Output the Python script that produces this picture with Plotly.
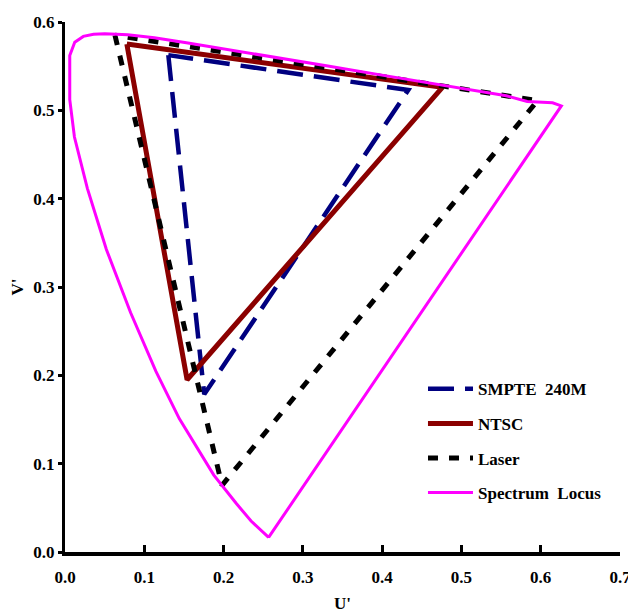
import plotly.graph_objects as go

# ---- data (CIE 1976 u'v' coordinates) ----
smpte_u = [0.1303, 0.1756, 0.4330, 0.1303]
smpte_v = [0.5625, 0.1785, 0.5230, 0.5625]

ntsc_u = [0.0780, 0.1540, 0.4760, 0.0780]
ntsc_v = [0.5750, 0.1950, 0.5260, 0.5750]

laser_u = [0.0630, 0.1980, 0.5960, 0.0630]
laser_v = [0.5850, 0.0754, 0.5110, 0.5850]

locus_u = [0.2568, 0.2347, 0.2161, 0.1877, 0.1441, 0.1147, 0.0828, 0.0521,
           0.0282, 0.0119, 0.0060, 0.0060, 0.0123, 0.0231, 0.0360, 0.0501,
           0.0792, 0.1127, 0.1531, 0.2026, 0.2623, 0.3315, 0.4035, 0.4692,
           0.5203, 0.5565, 0.5830, 0.6030, 0.6150, 0.6260, 0.2568]
locus_v = [0.0165, 0.0350, 0.0549, 0.0871, 0.1510, 0.2044, 0.2708, 0.3427,
           0.4117, 0.4698, 0.5120, 0.5620, 0.5770, 0.5837, 0.5861, 0.5867,
           0.5856, 0.5821, 0.5766, 0.5694, 0.5604, 0.5501, 0.5393, 0.5296,
           0.5219, 0.5165, 0.5100, 0.5090, 0.5085, 0.5050, 0.0165]

x_ticks = [0.0, 0.1, 0.2, 0.3, 0.4, 0.5, 0.6, 0.7]
y_ticks = [0.0, 0.1, 0.2, 0.3, 0.4, 0.5, 0.6]

FONT = "Times New Roman, Liberation Serif, serif"

fig = go.Figure()
fig.add_trace(go.Scatter(x=smpte_u, y=smpte_v, mode="lines", name="SMPTE  240M",
                         legendgroup="a",
                         line=dict(color="#000080", width=4.5, dash="26px,11px")))
fig.add_trace(go.Scatter(x=ntsc_u, y=ntsc_v, mode="lines", name="NTSC",
                         legendgroup="b",
                         line=dict(color="#8B0000", width=5)))
fig.add_trace(go.Scatter(x=laser_u, y=laser_v, mode="lines", name="Laser",
                         legendgroup="c",
                         line=dict(color="black", width=5, dash="10px,11px")))
fig.add_trace(go.Scatter(x=locus_u, y=locus_v, mode="lines", name="Spectrum  Locus",
                         legendgroup="d",
                         line=dict(color="#FF00FF", width=3)))

fig.update_layout(
    width=628, height=605,
    margin=dict(l=57, r=16, t=14, b=61),
    paper_bgcolor="white", plot_bgcolor="white",
    font=dict(family=FONT, size=17, color="black", weight="bold"),
    showlegend=True,
    legend=dict(x=0.645, y=0.341, xanchor="left", yanchor="top",
                traceorder="grouped", tracegroupgap=9.5, itemwidth=45,
                font=dict(family=FONT, size=17, color="black", weight="bold"),
                bgcolor="rgba(0,0,0,0)", borderwidth=0),
)
fig.update_xaxes(range=[0, 0.7], tickvals=x_ticks, tickformat=".1f",
                 showline=True, linewidth=4, linecolor="black",
                 ticks="inside", ticklen=7, tickwidth=2.5, tickcolor="black",
                 showgrid=False, zeroline=False, ticklabelstandoff=7,
                 automargin=False,
                 tickfont=dict(family=FONT, size=17, weight="bold"),
                 title=dict(text="U'", standoff=14,
                            font=dict(family=FONT, size=17, weight="bold")))
fig.update_yaxes(range=[0, 0.6], tickvals=y_ticks, tickformat=".1f",
                 showline=True, linewidth=3, linecolor="black",
                 ticks="outside", ticklen=4, tickwidth=3, tickcolor="black",
                 showgrid=False, zeroline=False, automargin=False,
                 tickfont=dict(family=FONT, size=17, weight="bold"),
                 title=dict(text="V'", standoff=7,
                            font=dict(family=FONT, size=17, weight="bold")))

fig.write_html("out.html")
